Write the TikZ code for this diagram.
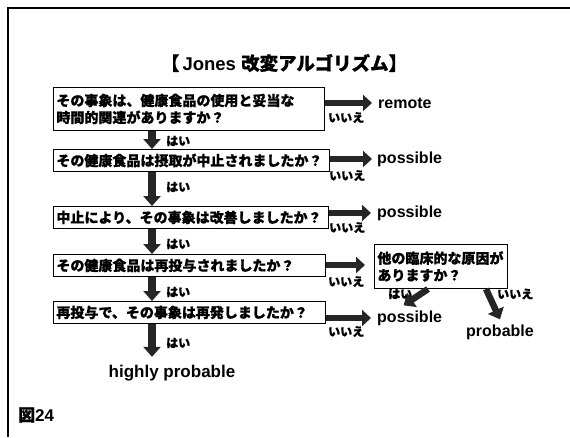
\documentclass[tikz,border=0pt]{standalone}
\usepackage{fontspec}
\setmainfont{Liberation Sans}
\newfontfamily\jp{Noto Sans CJK JP}[BoldFeatures={FakeBold=0.8}]
\usetikzlibrary{arrows.meta,calc}
\tikzset{
  qbox/.style={draw, line width=0.9pt, inner xsep=3pt, inner ysep=2pt, anchor=north west, align=left,
    font=\jp\bfseries\fontsize{14}{17}\selectfont},
  lbl/.style={inner sep=0pt, font=\bfseries\fontsize{16}{19}\selectfont},
  yn/.style={inner sep=0pt, font=\jp\bfseries\fontsize{12}{14}\selectfont},
  rarrow/.style={draw=black!85, line width=6.5pt, -{Triangle[width=16pt,length=9pt]}},
  darrow/.style={draw=black!85, line width=7.5pt, -{Triangle[width=17pt,length=10pt]}},
}
\begin{document}
\begin{tikzpicture}[x=1pt,y=-1pt]
\useasboundingbox (0,0) rectangle (570,437);
\draw[line width=1.1pt] (8,437) -- (8,8) -- (570,8);
\node[inner sep=0pt, font=\bfseries\fontsize{18.5}{22}\selectfont] (title) at (284,63)
  {{\jp 【}\,Jones {\jp 改変アルゴリズム】}};
% question boxes
\node[qbox, text width=265pt, minimum height=43pt] (b1) at (53,87)
  {その事象は、健康食品の使用と妥当な\\時間的関連がありますか？};
\node[qbox, text width=270pt, minimum height=22pt] (b2) at (53,149)
  {その健康食品は摂取が中止されましたか？};
\node[qbox, text width=269pt, minimum height=22pt] (b3) at (53,206)
  {中止により、その事象は改善しましたか？};
\node[qbox, text width=266pt, minimum height=22pt] (b4) at (53,254)
  {その健康食品は再投与されましたか？};
\node[qbox, text width=266pt, minimum height=22pt] (b5) at (53,301)
  {再投与で、その事象は再発しましたか？};
\node[qbox, text width=127pt, minimum height=44pt] (sb) at (374,244)
  {他の臨床的な原因が\\ありますか？};
% outcome labels
\node[lbl, anchor=west] (r1) at (378,103) {remote};
\node[lbl, anchor=west] (r2) at (377,159) {possible};
\node[lbl, anchor=west] (r3) at (377,213) {possible};
\node[lbl, anchor=west] (r5) at (377,318) {possible};
\node[lbl, anchor=west] (r6) at (466,332) {probable};
\node[lbl, font=\bfseries\fontsize{17}{20}\selectfont] (hp) at (172,373) {highly probable};
\node[inner sep=0pt, anchor=west, font=\bfseries\fontsize{17}{20}\selectfont] (fig) at (18,415) {{\jp 図}24};
% right arrows (いいえ)
\draw[rarrow] (b1.east |- r1) -- ($(r1.west)+(-6,0)$);
\draw[rarrow] (b2.east |- r2) -- ($(r2.west)+(-5,0)$);
\draw[rarrow] (b3.east |- r3) -- ($(r3.west)+(-6,0)$);
\coordinate (t4) at (365,265);
\draw[rarrow] (b4.east |- t4) -- (t4);
\draw[rarrow] (b5.east |- r5) -- ($(r5.west)+(-6,0)$);
\node[yn, anchor=north west] (n1) at (328,112) {いいえ};
\node[yn, anchor=north west] (n2) at (329,170) {いいえ};
\node[yn, anchor=north west] (n3) at (329,222) {いいえ};
\node[yn, anchor=north west] (n4) at (328,276) {いいえ};
\node[yn, anchor=north west] (n5) at (328,326) {いいえ};
% down arrows (はい)
\coordinate (ax) at (152,0);
\draw[darrow] (b1.south -| ax) -- (b2.north -| ax);
\draw[darrow] (b2.south -| ax) -- (b3.north -| ax);
\draw[darrow] (b3.south -| ax) -- (b4.north -| ax);
\draw[darrow] (b4.south -| ax) -- (b5.north -| ax);
\draw[darrow] (b5.south -| ax) -- ($(hp.north -| ax)+(0,-8)$);
\node[yn, anchor=west] (y1) at (166,141) {はい};
\node[yn, anchor=west] (y2) at (166,187) {はい};
\node[yn, anchor=west] (y3) at (166,244) {はい};
\node[yn, anchor=west] (y4) at (166,292) {はい};
\node[yn, anchor=west] (y5) at (166,343) {はい};
% side box arrows
\coordinate (s1) at (428,289);
\draw[darrow, line width=6.5pt] (s1) -- ($(r5.north)+(-6,-5)$);
\coordinate (s2) at (486,289);
\draw[darrow, line width=6.5pt] (s2) -- ($(r6.north)+(0,-5)$);
\node[yn, anchor=west] (y6) at (388,294) {はい};
\node[yn, anchor=west] (n6) at (497,294) {いいえ};
\end{tikzpicture}
\end{document}
